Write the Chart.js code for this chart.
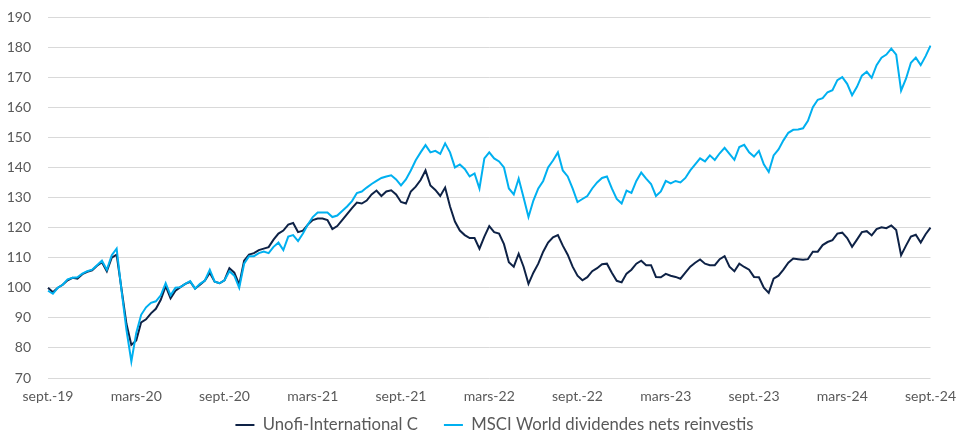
<!DOCTYPE html>
<html>
<head>
<meta charset="utf-8">
<script src="https://cdn.jsdelivr.net/npm/chart.js@4.4.1/dist/chart.umd.min.js"></script>
<style>
  body { margin: 0; background: #fff; }
</style>
</head>
<body>
<canvas id="myChart" width="966" height="434"></canvas>
<script>
// Tick labels on the x axis, one every 6 months
const tickLabels = ['sept.-19', 'mars-20', 'sept.-20', 'mars-21', 'sept.-21', 'mars-22',
    'sept.-22', 'mars-23', 'sept.-23', 'mars-24', 'sept.-24'];
const pointsPerTick = 18; // ~3 readings per month

// Unofi-International C (base 100)
const unofiValues = [
    100, 98.5, 100, 101, 102.5, 103.3, 103, 104.5, 105.3, 105.8, 107.3, 108.5, 105.5, 110, 111, 99.5, 88, 81,
    82.5, 88.5, 89.5, 91.5, 93, 96, 100.5, 96.5, 99, 100.2, 101.3, 102, 99.7, 101, 102.4, 105, 102, 101.5,
    102.5, 106.5, 105, 101, 109, 111, 111.5, 112.5, 113, 113.5, 116, 118, 119, 121, 121.5, 118.5, 119, 121,
    122.5, 123, 123, 122.5, 119.5, 120.5, 122.5, 124.5, 126.5, 128.3, 128, 129, 131, 132.3, 130.5, 132, 132.4, 131,
    128.5, 128, 132, 133.6, 135.8, 139, 134, 132.5, 130.5, 133.3, 127, 122, 119, 117.5, 116.5, 116.5, 113, 117,
    120.5, 118.5, 118, 114.5, 108.5, 107, 111.3, 107, 101.3, 105, 108, 112, 115, 116.8, 117.5, 114, 111, 107,
    104, 102.5, 103.5, 105.5, 106.5, 107.8, 108, 105, 102.3, 101.8, 104.7, 106, 108, 109, 107.5, 107.5, 103.6, 103.5,
    104.6, 104, 103.6, 103, 105, 107, 108.3, 109.4, 108, 107.5, 107.5, 109.5, 110.5, 107, 105.5, 108, 106.9, 106,
    103.6, 103.5, 100, 98.3, 103, 104, 106, 108.3, 109.7, 109.5, 109.3, 109.5, 112, 112, 114.2, 115.2, 115.8, 118,
    118.3, 116.5, 113.6, 116, 118.5, 118.8, 117.4, 119.5, 120.1, 119.8, 120.7, 119.2, 110.8, 114, 117, 117.6, 115, 117.8,
    120
];

// MSCI World dividendes nets reinvestis (base 100)
const msciValues = [
    99, 98, 100, 101, 102.8, 103.3, 103.5, 104.7, 105.5, 106, 107.5, 109, 106, 110.8, 113, 99, 86, 75.5,
    85, 91, 93.5, 95, 95.5, 97.5, 101.5, 97.5, 100, 100.2, 101.3, 102.2, 99.7, 101.3, 102.4, 106, 102, 101.5,
    102.5, 105.5, 104, 100, 108, 110.5, 110.5, 111.5, 112, 111.5, 113.6, 115, 112.5, 117, 117.5, 115.5, 118, 121,
    123.5, 125, 125, 125, 123.5, 124, 125.5, 127, 128.8, 131.5, 132, 133.3, 134.5, 135.5, 136.5, 137, 137.4, 136,
    134, 136, 139, 142.4, 145, 147.4, 145, 145.5, 144.5, 148, 145, 140, 141, 139.5, 137, 138, 133, 143,
    145, 143, 142, 140, 133, 131, 136.3, 130, 123.5, 129, 133, 135.5, 140, 142.3, 145, 139, 137, 133,
    128.5, 129.5, 130.5, 133, 135, 136.5, 137, 133, 129.5, 128, 132.3, 131.5, 135.5, 138.3, 136.3, 134.5, 130.5, 132,
    135.5, 134.7, 135.5, 135, 136.5, 139, 141, 143, 142, 144, 142.5, 144.7, 146.5, 144.5, 142.5, 146.8, 147.5, 145,
    143.6, 145.5, 141, 138.5, 144, 146, 149, 151.5, 152.5, 152.6, 153, 155.5, 160, 162.5, 163, 165, 165.7, 169,
    170, 167.8, 164, 166.8, 170.5, 171.8, 169.8, 174, 176.5, 177.5, 179.5, 177.5, 165.5, 169.5, 174.8, 176.5, 174, 177,
    180.5
];

const seriesNames = ['Unofi-International C', 'MSCI World dividendes nets reinvestis'];

// one category per reading, label only on the 6-month marks
const categories = unofiValues.map((v, i) => i % pointsPerTick === 0 ? tickLabels[i / pointsPerTick] : '');

const navy = '#0e2246';
const lightBlue = '#00b0f0';
const textGrey = '#595959';

Chart.defaults.font.family = 'Lato, "Open Sans", sans-serif';
Chart.defaults.color = textGrey;

// move the legend to where the original one sits (labels.padding also
// sets the gap between the two items, so the box is taller than needed)
const legendShift = {
    id: 'legendShift',
    afterLayout(chart) {
        const lg = chart.legend;
        lg.left += 26;
        lg.right += 26;
        lg.top -= 15;
        lg.bottom -= 15;
    }
};

const ctx = document.getElementById('myChart');
const myChart = new Chart(ctx, {
    type: 'line',
    data: {
        labels: categories,
        datasets: [{
            label: seriesNames[0],
            data: unofiValues,
            borderColor: navy,
            backgroundColor: navy,
            borderWidth: 2,
            pointRadius: 0,
            tension: 0,
            order: 2
        }, {
            label: seriesNames[1],
            data: msciValues,
            borderColor: lightBlue,
            backgroundColor: lightBlue,
            borderWidth: 2,
            pointRadius: 0,
            tension: 0,
            order: 1
        }]
    },
    plugins: [legendShift],
    options: {
        responsive: false,
        animation: false,
        layout: {
            padding: { left: 0, right: 29, top: 17, bottom: -24.35 }
        },
        plugins: {
            tooltip: { enabled: false },
            legend: {
                position: 'bottom',
                labels: {
                    font: { size: 16.7 },
                    color: textGrey,
                    usePointStyle: true,
                    pointStyle: 'line',
                    pointStyleWidth: 19,
                    padding: 26,
                    sort: (a, b) => a.datasetIndex - b.datasetIndex
                }
            }
        },
        scales: {
            x: {
                grid: { display: false, drawTicks: false },
                border: { display: false },
                ticks: {
                    autoSkip: false,
                    maxRotation: 0,
                    padding: 10,
                    font: { size: 14 }
                },
                afterFit: (s) => { s.height = 27.65; }
            },
            y: {
                min: 70,
                max: 190,
                grid: {
                    color: '#d9d9d9',
                    drawTicks: true,
                    tickLength: 16,
                    tickColor: 'rgba(0,0,0,0)'
                },
                border: { display: false },
                ticks: {
                    stepSize: 10,
                    padding: 1,
                    font: { size: 14 }
                },
                afterFit: (s) => { s.width = 48; }
            }
        }
    }
});
</script>
</body>
</html>
